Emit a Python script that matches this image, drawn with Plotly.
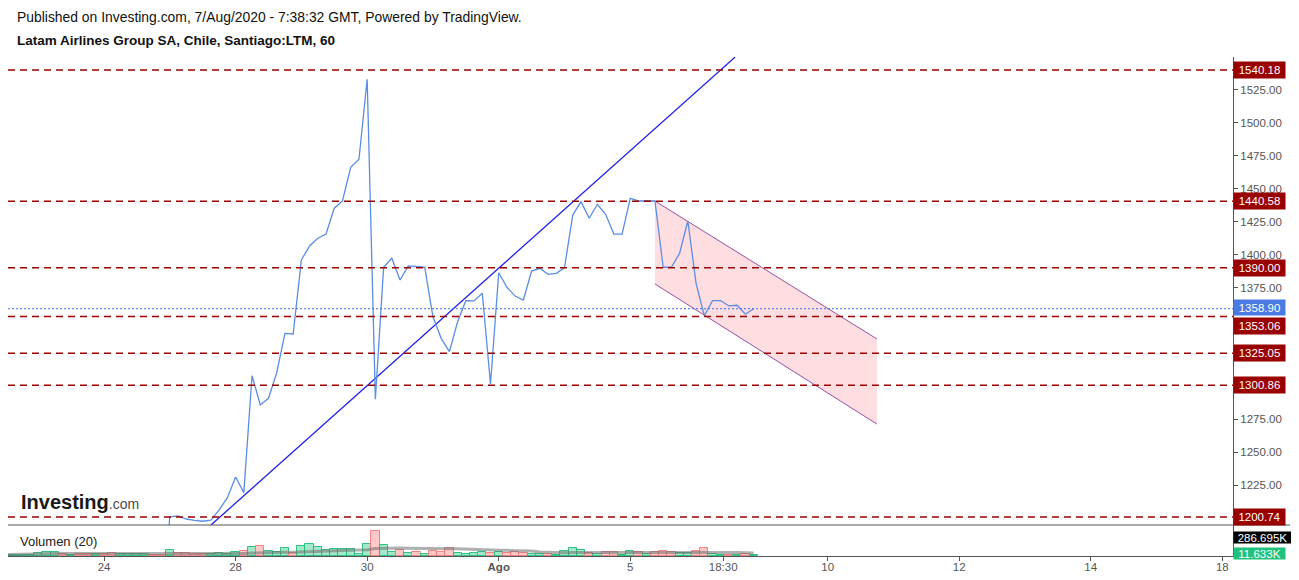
import plotly.graph_objects as go
import pandas as pd

# ---------------- data ----------------
# hourly bars: index 0 = first bar of 27 Jul 2020 (8 bars per trading day)
price_bars = list(range(-1, 72))
price_close = [
    1130.0,
    1200.9, 1201.5, 1199.2, 1198.2, 1197.5, 1198.4, 1206.1, 1215.4,
    1231.1, 1219.2, 1308.0, 1285.8, 1290.9, 1310.3, 1340.2, 1339.7,
    1395.9, 1406.5, 1412.4, 1415.6, 1435.2, 1440.7, 1466.3, 1472.4,
    1533.1, 1290.2, 1390.4, 1397.2, 1380.7, 1391.4, 1391.0, 1390.4,
    1352.8, 1336.4, 1326.3, 1349.0, 1365.0, 1364.8, 1370.6, 1301.7,
    1386.2, 1375.2, 1368.5, 1365.5, 1387.5, 1389.6, 1385.0, 1385.8,
    1390.0, 1430.0, 1440.2, 1427.6, 1438.2, 1430.6, 1415.6, 1415.6,
    1442.7, 1440.7, 1440.9, 1440.7, 1390.4, 1390.4, 1401.0, 1425.5,
    1378.2, 1353.6, 1365.0, 1365.0, 1361.0, 1361.5, 1354.7, 1358.9,
]

vol_bars = list(range(-20, 72))
vol_k = [
    18, 18, 18, 18, 36, 48, 48, 28, 12, 20,
    28, 20, 28, 36, 28, 20, 20, 28, 12, 12,
    68, 36, 32, 28, 20, 28, 36, 28, 44, 60,
    108, 116, 60, 52, 92, 40, 116, 140, 108, 68,
    80, 88, 80, 20, 140, 300, 128, 48, 68, 32,
    48, 20, 60, 48, 92, 36, 24, 36, 48, 40,
    48, 36, 48, 36, 24, 24, 24, 12, 56, 92,
    68, 40, 28, 44, 48, 16, 56, 48, 28, 48,
    56, 48, 40, 40, 56, 92, 24, 16, 12, 12,
    24, 11.6,
]
vol_dir = ("gggggggrgr" "rgrrggggrr"
           "grrrrggggr" "grgggrgggg" "gggggrggrg" "rgrrrggggr"
           "grrrggrggg" "grgrrggrgr" "rrggrrggrg" "rg")

levels = [1540.18, 1440.58, 1390.00, 1353.06, 1325.05, 1300.86, 1200.74]
level_text = ["1540.18", "1440.58", "1390.00", "1353.06", "1325.05", "1300.86", "1200.74"]
last_price = 1358.90
last_text = "1358.90"

trend_x = [5.0, 68.75]
trend_y = [1194.6, 1550.0]

chan_x = [59.0, 86.0]
chan_top = [1440.7, 1335.9]
chan_bot = [1377.7, 1271.3]

tick_pos = [-8, 8, 24, 40, 56, 67.3, 80, 96, 112, 128]
tick_text = ["24", "28", "30", "<b>Ago</b>", "5", "18:30", "10", "12", "14", "18"]
# price scale labels that are not hidden behind the level tags
price_ticks = [1225, 1250, 1275, 1375, 1400, 1425, 1450, 1475, 1500, 1525]

vol_ma_text = "286.695K"
vol_last_text = "11.633K"

# ---------------- figure ----------------
FONT = "Arial, Liberation Sans, sans-serif"
OFF = 8                      # page body margin
W, H = 1299 - OFF, 580 - OFF
ML, MR, MT, MB = 0, 66, 49, 24
PH = H - MT - MB
PW = W - ML - MR
split = 31 / PH


def py(p):  # page pixel y -> paper
    return (H - MB - (p - OFF)) / PH


def px(p):  # page pixel x -> paper
    return (p - OFF - ML) / PW


fig = go.Figure()

# channel
fig.add_trace(go.Scatter(
    x=[chan_x[0], chan_x[1], chan_x[1], chan_x[0], chan_x[0]],
    y=[chan_top[0], chan_top[1], chan_bot[1], chan_bot[0], chan_top[0]],
    fill="toself", fillcolor="rgba(255,200,205,0.6)", mode="lines",
    line=dict(width=0), hoverinfo="skip"))
fig.add_trace(go.Scatter(x=chan_x, y=chan_top, mode="lines",
                         line=dict(color="#9a4fa3", width=1), hoverinfo="skip"))
fig.add_trace(go.Scatter(x=chan_x, y=chan_bot, mode="lines",
                         line=dict(color="#9a4fa3", width=1), hoverinfo="skip"))

# trend line
fig.add_trace(go.Scatter(x=trend_x, y=trend_y, mode="lines",
                         line=dict(color="#1f1fef", width=1.3), hoverinfo="skip"))

# price
fig.add_trace(go.Scatter(x=price_bars, y=price_close, mode="lines",
                         line=dict(color="#5a8de4", width=1.3)))

# volume
fill_c = ["rgba(38,200,130,0.42)" if d == "g" else "rgba(255,110,110,0.38)" for d in vol_dir]
line_c = ["rgba(30,190,120,0.9)" if d == "g" else "rgba(245,120,120,0.9)" for d in vol_dir]
fig.add_trace(go.Bar(x=vol_bars, y=vol_k, yaxis="y2", width=1,
                     marker=dict(color=fill_c, line=dict(color=line_c, width=1))))
vol_ma = pd.Series(vol_k).rolling(20, min_periods=1).mean()
fig.add_trace(go.Scatter(x=vol_bars, y=vol_ma, yaxis="y2", mode="lines",
                         line=dict(color="rgba(110,110,110,0.55)", width=3)))

shapes = []
for lv in levels:
    shapes.append(dict(type="line", xref="paper", x0=0, x1=1, yref="y", y0=lv, y1=lv,
                       line=dict(color="#990000", width=1.5, dash="7px,5px")))
shapes.append(dict(type="line", xref="paper", x0=0, x1=1, yref="y", y0=last_price, y1=last_price,
                   line=dict(color="#3a6ee2", width=1, dash="2px,2px")))
shapes.append(dict(type="line", xref="paper", x0=0, x1=px(1290), yref="paper", y0=split, y1=split,
                   line=dict(color="#555555", width=1)))

annotations = []
for lv, t in zip(levels, level_text):
    shift = -10 if t == "1353.06" else 0
    annotations.append(dict(x=1, xref="paper", y=lv, yref="y", xanchor="left", yanchor="middle",
                            yshift=shift, text=t, showarrow=False, bgcolor="#990000",
                            width=47, height=12, borderpad=2,
                            font=dict(family=FONT, size=11.5, color="white")))
annotations.append(dict(x=1, xref="paper", y=last_price, yref="y", xanchor="left", yanchor="middle",
                        yshift=1, text=last_text, showarrow=False, bgcolor="#4a7be3", width=47, height=11,
                        borderpad=2, font=dict(family=FONT, size=11.5, color="white")))
annotations.append(dict(x=1, xref="paper", y=py(537.5), yref="paper", xanchor="left", yanchor="middle",
                        text=vol_ma_text, showarrow=False, bgcolor="#000000", width=55, height=9,
                        borderpad=1, font=dict(family=FONT, size=11.5, color="white")))
annotations.append(dict(x=1, xref="paper", y=py(553), yref="paper", xanchor="left", yanchor="middle",
                        text=vol_last_text, showarrow=False, bgcolor="#1fc27c", width=49, height=9,
                        borderpad=1, font=dict(family=FONT, size=11.5, color="white")))

annotations.append(dict(x=px(15), xref="paper", y=py(17), yref="paper", xanchor="left", yanchor="middle",
                        text="Published on Investing.com, 7/Aug/2020 - 7:38:32 GMT, Powered by TradingView.",
                        showarrow=False, font=dict(family=FONT, size=13.9, color="#111111")))
annotations.append(dict(x=px(15), xref="paper", y=py(40), yref="paper", xanchor="left", yanchor="middle",
                        text="<b>Latam Airlines Group SA, Chile, Santiago:LTM, 60</b>",
                        showarrow=False, font=dict(family=FONT, size=13.5, color="#111111")))
annotations.append(dict(x=px(19), xref="paper", y=py(502), yref="paper", xanchor="left", yanchor="middle",
                        text="<b>Investing</b><span style='font-size:14px;color:#4a4a4a'>.com</span>",
                        showarrow=False, font=dict(family=FONT, size=20, color="#1a1a1a")))
annotations.append(dict(x=px(18), xref="paper", y=py(541), yref="paper", xanchor="left", yanchor="middle",
                        text="Volumen (20)", showarrow=False,
                        font=dict(family=FONT, size=13, color="#222222")))

fig.update_layout(
    width=W, height=H,
    margin=dict(l=ML, r=MR, t=MT, b=MB),
    paper_bgcolor="white", plot_bgcolor="white",
    showlegend=False, bargap=0,
    font=dict(family=FONT, size=11, color="#555555"),
    xaxis=dict(range=[-19.68, 129.3], tickmode="array", tickvals=tick_pos, ticktext=tick_text,
               ticks="outside", ticklen=4, tickcolor="#555555", showline=True,
               linecolor="#555555", linewidth=1, anchor="y2", showgrid=False, zeroline=False,
               ticklabelstandoff=-4,
               tickfont=dict(family=FONT, size=11.5, color="#555555")),
    yaxis=dict(domain=[split, 1], range=[1194.65, 1550.05], side="right",
               tickmode="array", tickvals=price_ticks, tickformat=".2f",
               ticks="outside", ticklen=4, tickcolor="#555555", showline=True,
               linecolor="#555555", linewidth=1, showgrid=False, zeroline=False,
               tickfont=dict(family=FONT, size=11.5, color="#555555")),
    yaxis2=dict(domain=[0, split], range=[0, 372], side="right", anchor="x",
                showline=True, linecolor="#555555", linewidth=1, showticklabels=False,
                ticks="", showgrid=False, zeroline=False),
    shapes=shapes, annotations=annotations,
)

fig.write_html("out.html")
